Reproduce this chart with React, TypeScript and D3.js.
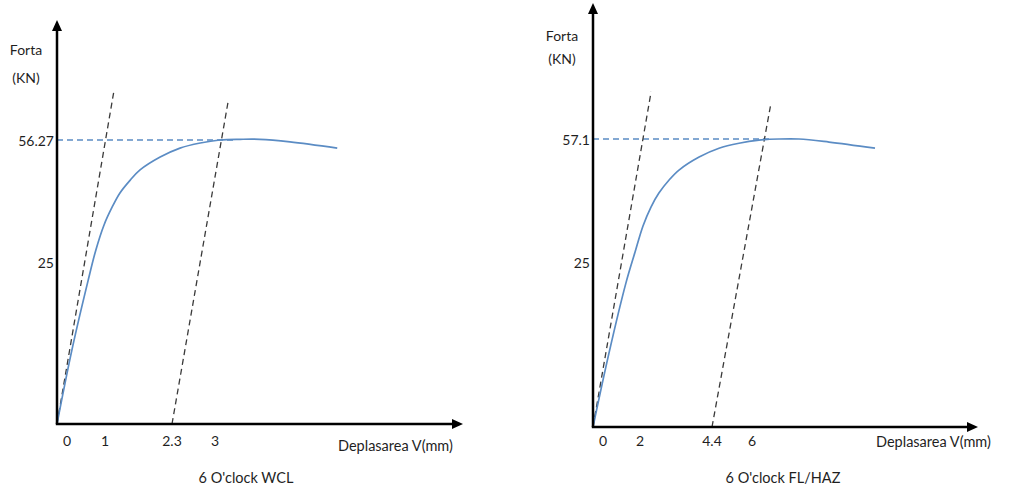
import React from "react";
import * as d3 from "d3";

// ---------- data ----------
// Left panel: 6 O'clock WCL
const wclTickValues = [0, 1, 2.3, 3];
const wclTickLabels = ["0", "1", "2.3", "3"];
const wclYTicks = [25, 56.27];
const wclYLabels = ["25", "56.27"];
const wclDisp = [0, 0.31, 0.65, 0.81, 0.98, 1.14, 1.29, 1.49, 1.68, 2.07, 2.43, 2.76, 3.08, 3.41, 3.73, 4.22, 4.99];
const wclForce = [0, 11.4, 22.2, 28.1, 34.5, 39.1, 42.7, 46.0, 48.6, 51.9, 54.2, 55.5, 56.27, 56.45, 56.45, 55.8, 54.2];
const wclElastic = [[0, 0], [1.17, 68.6]];
const wclOffset = [[2.3, 0], [3.21, 65.8]];
const wclMaxLine = [[0, 56.27], [3.3, 56.27]];

// Right panel: 6 O'clock FL/HAZ
const hazTickValues = [0, 2, 4.4, 6];
const hazTickLabels = ["0", "2", "4.4", "6"];
const hazYTicks = [25, 57.1];
const hazYLabels = ["25", "57.1"];
const hazDisp = [0, 0.68, 1.4, 1.79, 2.1, 2.37, 2.63, 2.97, 3.3, 3.97, 4.68, 5.48, 6.28, 7.08, 7.88, 9.08, 10.92];
const hazForce = [0, 11.2, 21.8, 27.6, 34.4, 39.4, 43.0, 46.4, 49.0, 52.4, 54.7, 56.0, 56.8, 57.1, 57.1, 56.3, 54.7];
const hazElastic = [[0, 0], [2.37, 69.4]];
const hazOffset = [[4.4, 0], [6.76, 66.5]];
const hazMaxLine = [[0, 57.1], [6.72, 57.1]];

const FONT = "Lato, 'Open Sans', sans-serif";
const TEXT = "#1f1f1f";
const BLUE = "#5b8cc4";

type PanelProps = {
  ox: number; oy: number; axisTopY: number; axisEndX: number;
  xRange: number[]; yRange: number[];
  tickValues: number[]; tickLabels: string[];
  yTicks: number[]; yLabels: string[];
  disp: number[]; force: number[];
  elastic: number[][]; offset: number[][]; maxLine: number[][];
  fortaX: number; fortaY: number; knY: number;
  xLabelX: number; xLabelY: number; tickLabelY: number;
  title: string; titleX: number; titleY: number;
};

function Panel(p: PanelProps) {
  const x = d3.scaleLinear().domain(p.tickValues).range(p.xRange);
  const y = d3.scaleLinear().domain([0, ...p.yTicks]).range(p.yRange);
  const curve = d3.line<number>()
    .x((_, i) => x(p.disp[i]))
    .y((d) => y(d))
    .curve(d3.curveCatmullRom.alpha(0.5));
  const seg = d3.line<number[]>().x((d) => x(d[0])).y((d) => y(d[1]));
  const ah = 11, aw = 5;
  const fs = 14;
  return (
    <g>
      {/* dashed helper lines */}
      <path d={seg(p.maxLine) || ""} stroke={BLUE} strokeWidth={1.3} strokeDasharray="6,4" fill="none" />
      <path d={seg(p.elastic) || ""} stroke="#3a3a3a" strokeWidth={1.3} strokeDasharray="6,4" fill="none" />
      <path d={seg(p.offset) || ""} stroke="#3a3a3a" strokeWidth={1.3} strokeDasharray="6,4" fill="none" />
      {/* curve */}
      <path d={curve(p.force) || ""} stroke={BLUE} strokeWidth={1.7} fill="none" />
      {/* axes */}
      <line x1={p.ox} y1={p.oy} x2={p.ox} y2={p.axisTopY + ah} stroke="#000" strokeWidth={2.5} />
      <path d={`M${p.ox},${p.axisTopY} L${p.ox - aw},${p.axisTopY + ah} L${p.ox + aw},${p.axisTopY + ah} Z`} fill="#000" />
      <line x1={p.ox - 1.2} y1={p.oy} x2={p.axisEndX - ah} y2={p.oy} stroke="#000" strokeWidth={2.5} />
      <path d={`M${p.axisEndX},${p.oy} L${p.axisEndX - ah},${p.oy - aw} L${p.axisEndX - ah},${p.oy + aw} Z`} fill="#000" />
      {/* tick labels */}
      {p.tickValues.map((v, i) => (
        <text key={"xt" + i} x={x(v) + (v === 0 ? 10 : 0)} y={p.tickLabelY} textAnchor="middle"
          dominantBaseline="central" fontSize={fs} fontFamily={FONT} fill={TEXT}>{p.tickLabels[i]}</text>
      ))}
      {p.yTicks.map((v, i) => (
        <text key={"yt" + i} x={p.ox - 3} y={y(v)} textAnchor="end"
          dominantBaseline="central" fontSize={fs} fontFamily={FONT} fill={TEXT}>{p.yLabels[i]}</text>
      ))}
      <text x={p.fortaX} y={p.fortaY} textAnchor="middle" dominantBaseline="central" fontSize={fs} fontFamily={FONT} fill={TEXT}>Forta</text>
      <text x={p.fortaX} y={p.knY} textAnchor="middle" dominantBaseline="central" fontSize={fs} fontFamily={FONT} fill={TEXT}>(KN)</text>
      <text x={p.xLabelX} y={p.xLabelY} textAnchor="start" dominantBaseline="central" fontSize={14.5} fontFamily={FONT} fill={TEXT}>Deplasarea V(mm)</text>
      <text x={p.titleX} y={p.titleY} textAnchor="middle" dominantBaseline="central" fontSize={14.5} fontFamily={FONT} fill={TEXT}>{p.title}</text>
    </g>
  );
}

export default function App() {
  return (
    <svg width={1016} height={491} style={{ position: "absolute", left: 0, top: 0, background: "#fff" }}>
      <Panel ox={57} oy={424} axisTopY={20} axisEndX={463}
        xRange={[57, 105, 172, 215]} yRange={[424, 262, 140]}
        tickValues={wclTickValues} tickLabels={wclTickLabels}
        yTicks={wclYTicks} yLabels={wclYLabels}
        disp={wclDisp} force={wclForce}
        elastic={wclElastic} offset={wclOffset} maxLine={wclMaxLine}
        fortaX={26} fortaY={49} knY={77}
        xLabelX={338} xLabelY={445} tickLabelY={440}
        title="6 O'clock WCL" titleX={246} titleY={477} />
      <Panel ox={593} oy={427} axisTopY={3} axisEndX={978}
        xRange={[593, 640, 712, 752]} yRange={[427, 262, 139]}
        tickValues={hazTickValues} tickLabels={hazTickLabels}
        yTicks={hazYTicks} yLabels={hazYLabels}
        disp={hazDisp} force={hazForce}
        elastic={hazElastic} offset={hazOffset} maxLine={hazMaxLine}
        fortaX={562} fortaY={35} knY={58}
        xLabelX={876} xLabelY={441} tickLabelY={440}
        title="6 O'clock FL/HAZ" titleX={783} titleY={477} />
    </svg>
  );
}
